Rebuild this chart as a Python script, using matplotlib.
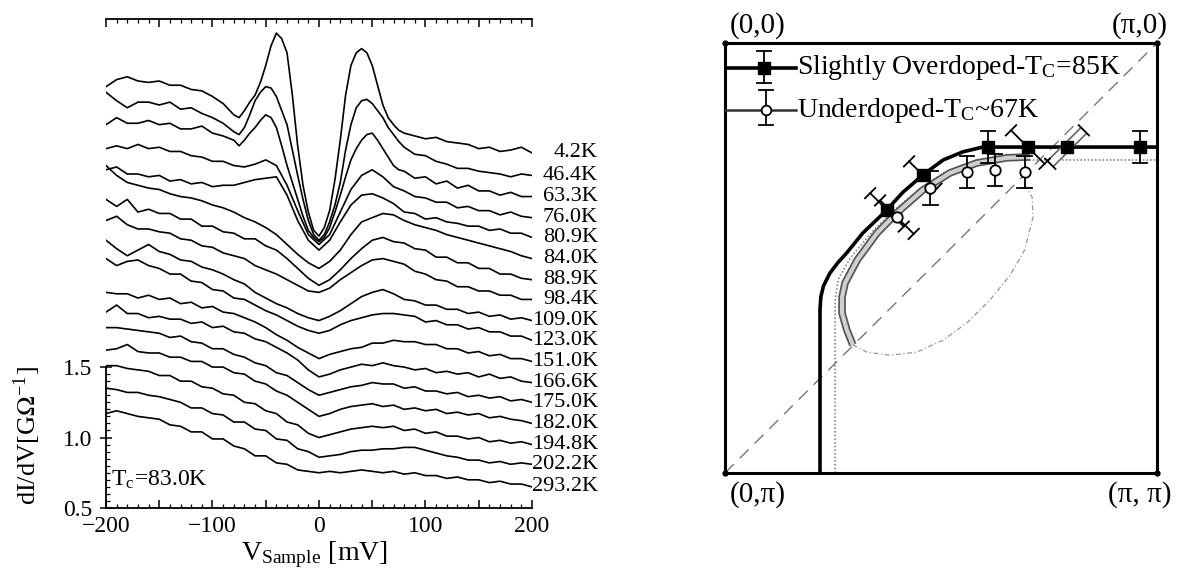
import numpy as np
import matplotlib
matplotlib.use("Agg")
import matplotlib.pyplot as plt
from matplotlib.ticker import MultipleLocator, FixedLocator, FuncFormatter

plt.rcParams['font.family'] = ['Liberation Serif', 'DejaVu Serif']
plt.rcParams['mathtext.fontset'] = 'stix'

# ---------------- data: left panel (tunneling spectra, offset) ----------------
bias_mV = list(range(-200, 201, 10))
# finer sampling around the coherence peaks for the lowest temperatures
bias_fine_mV = list(range(-200, -79, 10)) + list(range(-75, 76, 5)) + list(range(80, 201, 10))

temperature_labels = ['4.2K', '46.4K', '63.3K', '76.0K', '80.9K', '84.0K', '88.9K', '98.4K',
                      '109.0K', '123.0K', '151.0K', '166.6K', '175.0K', '182.0K', '194.8K',
                      '202.2K', '293.2K']

dIdV_4p2K = [3.49,3.54,3.56,3.53,3.52,3.53,3.50,3.50,3.47,3.46,3.42,3.37,3.29,
             3.27,3.32,3.38,3.43,3.52,3.64,3.78,3.87,3.83,3.73,3.43,3.07,2.79,2.60,2.47,2.43,
             2.49,2.61,2.83,3.11,3.43,3.64,3.73,3.76,3.73,3.64,3.50,3.36,3.27,3.22,3.18,
             3.16,3.14,3.12,3.13,3.10,3.09,3.08,3.05,3.06,3.03,3.04,3.06,3.02]
dIdV_46p4K = [3.45,3.39,3.34,3.38,3.38,3.36,3.38,3.33,3.34,3.30,3.27,3.23,3.17,
              3.15,3.20,3.29,3.39,3.45,3.49,3.48,3.42,3.32,3.22,3.04,2.86,2.69,2.54,2.44,2.40,
              2.44,2.53,2.65,2.81,3.04,3.22,3.34,3.39,3.40,3.37,3.32,3.27,3.20,3.15,3.10,
              3.06,3.01,3.00,2.96,2.94,2.91,2.91,2.89,2.88,2.87,2.85,2.87,2.86]
dIdV_63p3K = [3.22,3.27,3.23,3.23,3.25,3.22,3.23,3.19,3.19,3.21,3.16,3.14,3.11,
              3.07,3.11,3.16,3.20,3.25,3.29,3.27,3.20,3.07,2.93,2.81,2.69,2.57,2.47,2.42,2.39,
              2.42,2.49,2.60,2.72,2.85,2.97,3.05,3.11,3.15,3.16,3.11,3.05,2.99,2.93,2.90,
              2.89,2.84,2.85,2.80,2.82,2.77,2.79,2.75,2.75,2.72,2.74,2.71,2.71]
dIdV_76p0K = [3.05,3.07,3.05,3.08,3.05,3.06,3.03,3.03,3.00,2.99,2.96,2.96,2.93,2.92,2.94,2.97,2.93,2.79,2.61,2.44,2.37,
              2.44,2.60,2.76,2.86,2.90,2.85,2.78,2.75,2.71,2.70,2.67,2.67,2.63,2.64,2.61,2.61,2.58,2.60,2.57,2.56]
dIdV_80p9K = [2.90,2.92,2.87,2.87,2.85,2.86,2.82,2.83,2.80,2.81,2.78,2.79,2.79,2.81,2.83,2.84,2.85,2.72,2.54,2.40,2.33,
              2.40,2.53,2.65,2.72,2.73,2.70,2.66,2.60,2.59,2.55,2.56,2.53,2.52,2.50,2.50,2.47,2.48,2.45,2.45,2.42]
dIdV_84p0K = [2.93,2.86,2.81,2.79,2.77,2.76,2.73,2.71,2.70,2.68,2.65,2.63,2.60,2.56,2.53,2.49,2.44,2.37,2.30,2.24,2.20,
              2.25,2.33,2.44,2.53,2.56,2.59,2.58,2.54,2.51,2.49,2.47,2.44,2.42,2.40,2.38,2.36,2.34,2.32,2.29,2.27]
dIdV_88p9K = [2.69,2.64,2.69,2.60,2.62,2.59,2.59,2.55,2.55,2.50,2.50,2.46,2.45,2.41,2.41,2.36,2.33,2.27,2.20,2.13,2.08,
              2.12,2.19,2.27,2.34,2.40,2.42,2.39,2.38,2.34,2.33,2.28,2.28,2.24,2.24,2.20,2.20,2.16,2.16,2.13,2.12]
dIdV_98p4K = [2.54,2.57,2.51,2.48,2.48,2.46,2.45,2.41,2.40,2.36,2.35,2.31,2.29,2.27,2.22,2.19,2.16,2.12,2.08,2.04,2.03,
              2.06,2.12,2.17,2.22,2.26,2.27,2.25,2.23,2.18,2.16,2.12,2.11,2.07,2.07,2.04,2.04,2.01,2.01,1.98,1.98]
dIdV_109p0K = [2.40,2.34,2.29,2.33,2.37,2.32,2.30,2.26,2.25,2.21,2.19,2.16,2.12,2.09,2.03,1.99,1.95,1.92,1.88,1.85,1.83,
               1.86,1.90,1.95,2.00,2.03,2.05,2.02,1.98,1.97,1.94,1.94,1.91,1.91,1.88,1.89,1.86,1.87,1.84,1.85,1.83]
dIdV_123p0K = [2.27,2.22,2.25,2.26,2.22,2.20,2.16,2.16,2.11,2.10,2.05,2.04,1.99,1.98,1.94,1.90,1.87,1.83,1.79,1.76,1.74,
               1.76,1.80,1.83,1.85,1.87,1.88,1.88,1.87,1.86,1.82,1.83,1.80,1.80,1.77,1.78,1.75,1.75,1.72,1.72,1.69]
dIdV_151p0K = [2.03,2.02,2.02,1.99,2.01,1.98,1.99,1.95,1.96,1.92,1.93,1.89,1.88,1.85,1.82,1.78,1.73,1.69,1.64,1.60,1.56,
               1.59,1.61,1.63,1.64,1.67,1.67,1.69,1.68,1.68,1.66,1.66,1.63,1.63,1.60,1.61,1.58,1.59,1.56,1.56,1.54]
dIdV_166p6K = [1.89,1.94,1.88,1.88,1.85,1.86,1.84,1.84,1.81,1.82,1.78,1.79,1.75,1.74,1.70,1.68,1.64,1.60,1.55,1.48,1.43,
               1.45,1.48,1.50,1.52,1.51,1.53,1.51,1.50,1.48,1.49,1.46,1.47,1.45,1.46,1.43,1.45,1.42,1.43,1.40,1.39]
dIdV_175p0K = [1.78,1.78,1.77,1.76,1.75,1.74,1.71,1.72,1.68,1.67,1.63,1.63,1.59,1.57,1.53,1.51,1.46,1.44,1.39,1.34,1.30,
               1.32,1.34,1.36,1.37,1.39,1.38,1.38,1.35,1.36,1.33,1.33,1.31,1.32,1.29,1.30,1.28,1.29,1.26,1.27,1.25]
dIdV_182p0K = [1.62,1.63,1.66,1.61,1.60,1.60,1.57,1.57,1.54,1.54,1.50,1.50,1.46,1.45,1.40,1.38,1.33,1.30,1.25,1.20,1.15,
               1.17,1.20,1.22,1.23,1.24,1.22,1.23,1.20,1.21,1.19,1.20,1.17,1.18,1.16,1.17,1.14,1.15,1.13,1.12,1.10]
dIdV_194p8K = [1.51,1.51,1.49,1.48,1.47,1.44,1.44,1.40,1.40,1.36,1.35,1.31,1.30,1.25,1.24,1.19,1.17,1.11,1.09,1.03,1.00,
               1.02,1.04,1.06,1.07,1.08,1.07,1.08,1.05,1.06,1.03,1.04,1.01,1.01,0.99,1.00,0.97,0.98,0.96,0.97,0.95]
dIdV_202p2K = [1.35,1.34,1.32,1.32,1.30,1.29,1.27,1.25,1.21,1.21,1.17,1.16,1.11,1.11,1.06,1.05,0.99,0.98,0.92,0.90,0.86,
               0.87,0.88,0.90,0.91,0.91,0.92,0.92,0.93,0.93,0.91,0.89,0.87,0.86,0.84,0.84,0.82,0.83,0.81,0.82,0.81]
dIdV_293p2K = [1.17,1.19,1.17,1.15,1.14,1.13,1.09,1.08,1.04,1.04,0.99,0.99,0.94,0.92,0.87,0.87,0.82,0.81,0.77,0.76,0.75,
               0.76,0.75,0.76,0.77,0.76,0.75,0.76,0.74,0.75,0.73,0.73,0.71,0.72,0.70,0.70,0.68,0.69,0.67,0.67,0.65]

spectra = [dIdV_4p2K, dIdV_46p4K, dIdV_63p3K, dIdV_76p0K, dIdV_80p9K, dIdV_84p0K, dIdV_88p9K,
           dIdV_98p4K, dIdV_109p0K, dIdV_123p0K, dIdV_151p0K, dIdV_166p6K, dIdV_175p0K,
           dIdV_182p0K, dIdV_194p8K, dIdV_202p2K, dIdV_293p2K]

# ---------------- data: right panel (Fermi surface, units of pi) ----------------
fs_overdoped_kx = [0.220, 0.220, 0.222, 0.228, 0.243, 0.262, 0.282, 0.319, 0.370, 0.412, 0.458, 0.505, 0.551, 0.597, 1.0]
fs_overdoped_ky = [1.0, 0.62, 0.59, 0.565, 0.535, 0.51, 0.488, 0.442, 0.393, 0.347, 0.307, 0.272, 0.253, 0.242, 0.242]

fs_underdoped_kx = [0.296, 0.282, 0.271, 0.271, 0.278, 0.306, 0.352, 0.398, 0.458, 0.521, 0.583, 0.653, 0.706]
fs_underdoped_ky = [0.702, 0.667, 0.628, 0.591, 0.558, 0.505, 0.442, 0.395, 0.342, 0.302, 0.279, 0.267, 0.265]

fs_dotted_kx = [0.255, 0.255, 0.262, 0.29, 0.34, 0.39, 0.45, 0.51, 0.57, 0.63, 1.0]
fs_dotted_ky = [1.0, 0.60, 0.55, 0.50, 0.44, 0.39, 0.34, 0.30, 0.28, 0.272, 0.272]

pocket_kx = [0.296, 0.329, 0.382, 0.444, 0.505, 0.560, 0.613, 0.660, 0.694, 0.713, 0.711, 0.694]
pocket_ky = [0.702, 0.719, 0.726, 0.719, 0.691, 0.651, 0.598, 0.540, 0.481, 0.405, 0.358, 0.330]

diag_kx = [0.0, 1.0]
diag_ky = [1.0, 0.0]

od_kx = [0.375, 0.458, 0.609, 0.701, 0.792, 0.961]
od_ky = [0.388, 0.307, 0.242, 0.242, 0.242, 0.242]
od_err = [0.055, 0.045, 0.038, 0.055, 0.055, 0.038]
od_angle = [45, 45, 90, 45, 135, 90]
od_boxed = [False, False, False, False, True, False]

ud_kx = [0.398, 0.475, 0.560, 0.625, 0.694]
ud_ky = [0.405, 0.337, 0.300, 0.295, 0.300]
ud_err = [0.055, 0.040, 0.038, 0.038, 0.038]
ud_angle = [45, 90, 90, 90, 90]

legend_labels = [r'Slightly Overdoped-T$_{\mathregular{C}}$=85K', r'Underdoped-T$_{\mathregular{C}}$~67K']
corner_labels = ['(0,0)', '(\u03c0,0)', '(0,\u03c0)', '(\u03c0, \u03c0)']

# ---------------- figure ----------------
fig = plt.figure(figsize=(11.79, 5.72), dpi=100)

# left panel
ax1 = fig.add_axes([0.0899, 0.1119, 0.3613, 0.8549])
for vals in spectra:
    xs = bias_fine_mV if len(vals) == len(bias_fine_mV) else bias_mV
    ax1.plot(xs, vals, color='black', lw=1.2, solid_joinstyle='round')
for lab, vals in zip(temperature_labels, spectra):
    ax1.text(262, vals[-1], lab, ha='right', va='center', fontsize=16, clip_on=False)

ax1.set_xlim(-200, 200)
ax1.set_ylim(0.5, 3.97)
ax1.spines['right'].set_visible(False)
ax1.spines['left'].set_bounds(0.5, 1.5)
for s in ['left', 'top', 'bottom']:
    ax1.spines[s].set_linewidth(1.3)
ax1.xaxis.set_major_locator(MultipleLocator(50))
ax1.xaxis.set_minor_locator(MultipleLocator(10))
ax1.xaxis.set_major_formatter(FuncFormatter(
    lambda v, p: ('%d' % v).replace('-', '\u2212') if abs(v) % 100 == 0 else ''))
ax1.tick_params(axis='x', which='both', direction='in', top=True, bottom=True, labelsize=17, pad=6)
ax1.tick_params(axis='x', which='major', length=6, width=1.1)
ax1.tick_params(axis='x', which='minor', length=3, width=0.9)
ax1.yaxis.set_major_locator(FixedLocator([0.5, 1.0, 1.5]))
ax1.yaxis.set_minor_locator(FixedLocator(list(np.arange(0.55, 1.49, 0.05))))
ax1.yaxis.set_major_formatter(FuncFormatter(lambda v, p: '%.1f' % v))
ax1.tick_params(axis='y', which='major', direction='inout', length=8, width=1.1, labelsize=17, pad=6)
ax1.tick_params(axis='y', which='minor', direction='in', length=3, width=0.9)
ax1.text(0.012, 0.057, r'T$_{\mathregular{c}}$=83.0K', transform=ax1.transAxes,
         ha='left', va='center', fontsize=17)

fig.text(27 / 1179, 1 - 436 / 572, r'dI/dV[G$\Omega^{\mathregular{-1}}$]', rotation=90,
         ha='center', va='center', fontsize=19)
fig.text(314 / 1179, 12 / 572, r'V$_{\mathregular{Sample}}$ [mV]', ha='center', va='baseline', fontsize=20)

# right panel
ax2 = fig.add_axes([0.6149, 0.1731, 0.3664, 0.7517])
ax2.set_xlim(0, 1)
ax2.set_ylim(1, 0)
ax2.set_xticks([])
ax2.set_yticks([])
for s in ax2.spines.values():
    s.set_linewidth(2.2)

ax2.plot(diag_kx, diag_ky, color='#777777', lw=1.0, dashes=(9, 6), zorder=1)
ax2.plot(pocket_kx, pocket_ky, color='#999999', lw=0.9, linestyle=(0, (4, 2, 1, 2)), zorder=1)
ax2.plot(fs_dotted_kx, fs_dotted_ky, color='#888888', lw=1.2, linestyle=(0, (1, 1.2)), zorder=2)
ax2.plot(fs_underdoped_kx, fs_underdoped_ky, color='#555555', lw=5.5, solid_capstyle='butt', zorder=2)
ax2.plot(fs_underdoped_kx, fs_underdoped_ky, color='#cfcfcf', lw=3.0, solid_capstyle='butt', zorder=2)
ax2.plot(fs_overdoped_kx, fs_overdoped_ky, color='black', lw=2.6, zorder=3)


def draw_bar(ax, x, y, err, ang, cap=0.017, color='black', lw=1.3, boxed=False):
    a = np.deg2rad(ang)
    dx, dy = np.cos(a) * err, np.sin(a) * err
    if boxed:
        ax.plot([x - dx, x + dx], [y - dy, y + dy], color='#666666', lw=7, zorder=3.5,
                solid_capstyle='butt')
        ax.plot([x - dx, x + dx], [y - dy, y + dy], color='white', lw=4.5, zorder=3.6,
                solid_capstyle='butt')
    else:
        ax.plot([x - dx, x + dx], [y - dy, y + dy], color=color, lw=lw, zorder=4, clip_on=False)
    px, py = -np.sin(a) * cap, np.cos(a) * cap
    for sgn in (-1, 1):
        cx, cy = x + sgn * dx, y + sgn * dy
        ax.plot([cx - px, cx + px], [cy - py, cy + py], color=color, lw=lw, zorder=4, clip_on=False)


for x, y, e, a, b in zip(od_kx, od_ky, od_err, od_angle, od_boxed):
    draw_bar(ax2, x, y, e, a, boxed=b)
for x, y, e, a in zip(ud_kx, ud_ky, ud_err, ud_angle):
    draw_bar(ax2, x, y, e, a)
ax2.plot(od_kx, od_ky, linestyle='none', marker='s', ms=9, mfc='black', mec='black', zorder=5)
ax2.plot(ud_kx, ud_ky, linestyle='none', marker='o', ms=7.5, mfc='white', mec='black', mew=1.3, zorder=5)

# legend (hand-built to match the original layout)
ax2.plot([0.0, 0.165], [0.058, 0.058], color='black', lw=2.6, zorder=5)
draw_bar(ax2, 0.090, 0.056, 0.037, 90)
ax2.plot([0.090], [0.058], marker='s', ms=9, color='black', zorder=6)
ax2.plot([0.0, 0.165], [0.156, 0.156], color='#333333', lw=1.8, zorder=5)
draw_bar(ax2, 0.095, 0.150, 0.040, 90)
ax2.plot([0.095], [0.156], marker='o', ms=7, mfc='white', mec='black', mew=1.3, zorder=6)
ax2.text(0.167, 0.058, legend_labels[0], ha='left', va='center', fontsize=20)
ax2.text(0.167, 0.156, legend_labels[1], ha='left', va='center', fontsize=20)

corner_pos = [(0.075, 1.04), (0.96, 1.04), (0.075, -0.05), (0.96, -0.05)]
for lab, (cx, cy) in zip(corner_labels, corner_pos):
    ax2.text(cx, cy, lab, transform=ax2.transAxes, ha='center', va='center', fontsize=21)
ax2.plot([0, 1, 0, 1], [0, 0, 1, 1], linestyle='none', marker='o', ms=3.5, color='black', clip_on=False, zorder=6)

fig.savefig('out.png', dpi=100)
